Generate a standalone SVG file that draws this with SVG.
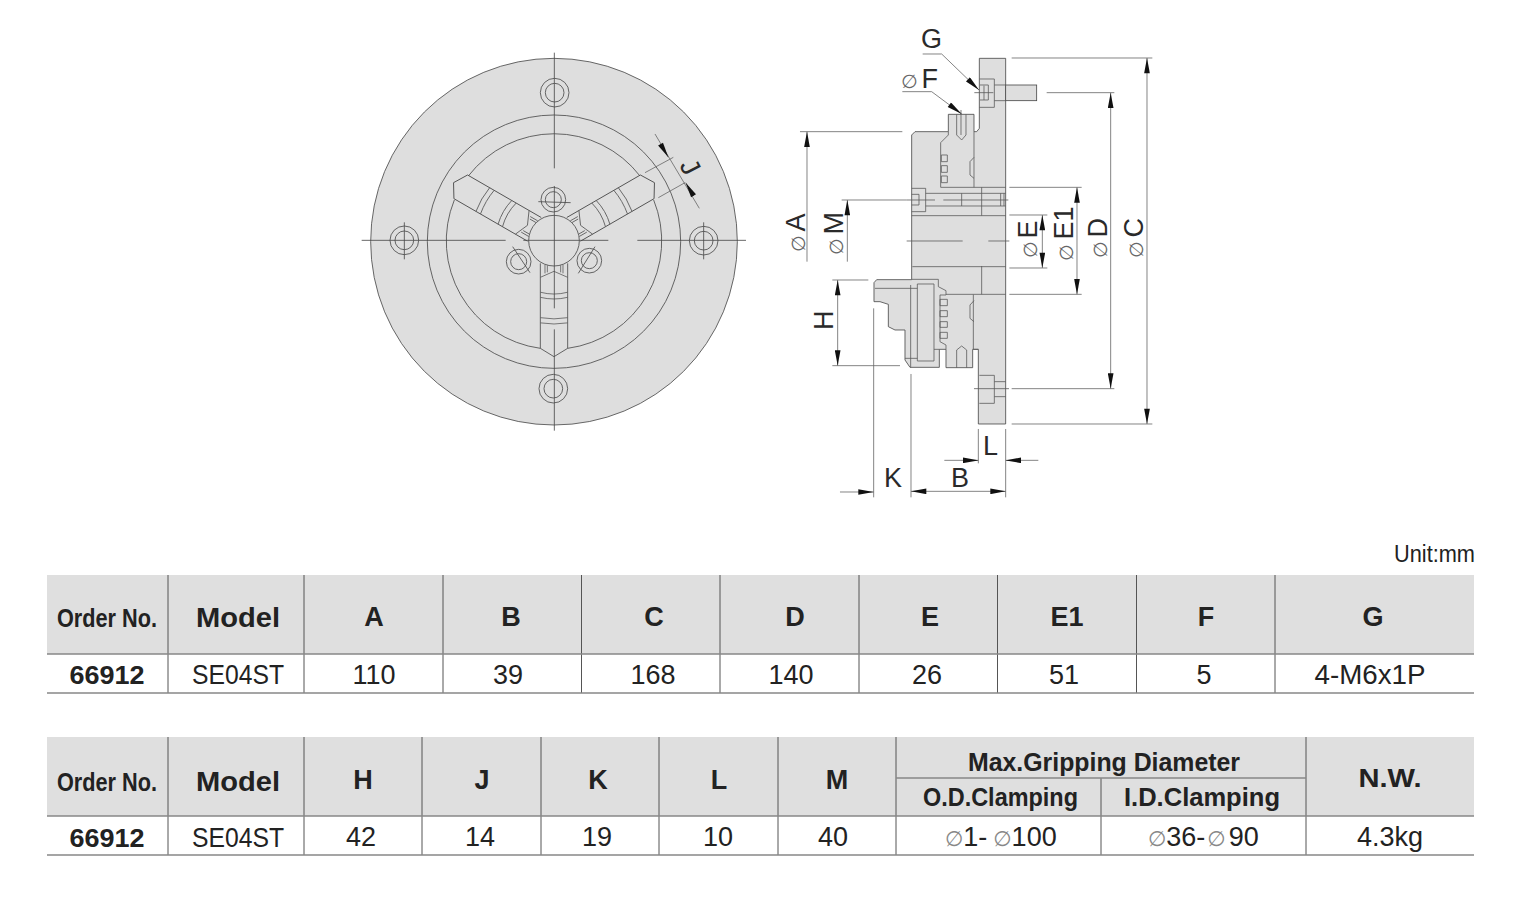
<svg xmlns="http://www.w3.org/2000/svg" width="1513" height="903" viewBox="0 0 1513 903">
<style>
text{font-family:"Liberation Sans",Arial,sans-serif;fill:#222}
.lab{font-size:27px;fill:#2a2a2a}
.phi{font-family:"DejaVu Sans",sans-serif;font-size:19px;fill:#666}
.rphi{font-family:"DejaVu Sans",sans-serif;font-size:21px;fill:#888}
.hd{font-size:27px;font-weight:bold;text-anchor:middle}
.c{font-size:27px;text-anchor:middle}
.b{font-size:26px;font-weight:bold;text-anchor:middle}
.hf{fill:#dfdfdf}
.tl{stroke:#555;stroke-width:1;fill:none}
.bl{stroke:#888;stroke-width:1.5;fill:none}
.d{fill:none;stroke:#4a4a4a;stroke-width:2.5}
.body{fill:#dedede;stroke:#4a4a4a;stroke-width:2.5}
.t{fill:none;stroke:#5a5a5a;stroke-width:2.4}
.dim{fill:none;stroke:#666;stroke-width:2.4}
.ar{marker-end:url(#ah)}
.ar2{marker-start:url(#ah);marker-end:url(#ah)}
</style>
<defs>
<marker id="ah" viewBox="-48 -9 48 18" refX="0" refY="0" markerWidth="48" markerHeight="18" markerUnits="userSpaceOnUse" orient="auto-start-reverse"><path d="M0,0L-46,-8.500L-46,8.500Z" fill="#111"/></marker>
<g id="jaw">
<path d="M-41,68V323L0,348L41,323V68" class="d"/>
<path d="M-41,110L0,92L41,110M-27,72V98M27,72V98M-20,74V95M20,74V95" class="t"/>
<path d="M-41,154.700A160,160 0 0 0 41,154.700M-41,170A175,175 0 0 0 41,170M-41,231A235,235 0 0 0 41,231M-41,246.600A250,250 0 0 0 41,246.600" class="t"/>
</g>
</defs>

<g id="front-view" transform="translate(360,50) scale(0.33333)">
<circle cx="582" cy="575" r="550" class="body"/>
<circle cx="582" cy="575" r="380" class="d"/>
<path d="M283,450A325,325 0 0 0 541,895M623,895A325,325 0 0 0 881,450M325,378A325,325 0 0 1 840,378" class="d"/>
<g transform="translate(582,572)">
<use href="#jaw"/>
<use href="#jaw" transform="rotate(120)"/>
<use href="#jaw" transform="rotate(-120)"/>
<circle r="76" class="body"/>
</g>
<g id="bolts" class="d">
<circle cx="584" cy="128" r="43"/><circle cx="584" cy="128" r="28"/>
<circle cx="133" cy="571" r="43"/><circle cx="133" cy="571" r="28"/>
<circle cx="1031" cy="572" r="43"/><circle cx="1031" cy="572" r="28"/>
<circle cx="580" cy="1016" r="43"/><circle cx="580" cy="1016" r="28"/>
<circle cx="580" cy="449" r="37"/><circle cx="580" cy="449" r="24"/>
<circle cx="476" cy="635" r="37"/><circle cx="476" cy="635" r="24"/>
<circle cx="688" cy="632" r="37"/><circle cx="688" cy="632" r="24"/>
</g>
<path class="d" d="M583,8V355M583,408V775M583,838V1142M5,571H437M490,571H745M832,571H1158M133,517V628M1031,517V628M535,455L632,458M458,590L510,668M705,590L655,670"/>
</g>

<g id="side-view" transform="translate(780,20) scale(0.33333)">
<path class="body" d="M598,115H677V1212H595V988H578V1043H498V988H478V1042H390L375,1020V930H345L325,920V853L300,845H282V788L290,779H395V345L405,335H505V283H582V335H590L598,325Z"/>
<rect x="677" y="195" width="93" height="47" class="body"/>
<g class="t">
<path d="M598,177H643V262H598M600,195H625V240H600M612,197V240M643,195H677M643,242H677M583,218H640"/>
<path d="M530,283V345L545,360L558,345V283M543,270V345M505,335V345L482,368V502M582,335V502"/>
<path d="M484,405h18v20h-18zM484,437h18v20h-18zM484,468h18v20h-18zM582,412L570,425V465L582,475"/>
<path d="M482,502H677M395,505H437V575H395M395,523H417V555H395M437,520H677M437,558H677M380,540H465M490,540H685M545,520V558M662,520V558M672,520V558M605,502V587M395,587H677M397,740H677M605,738V823M580,823H677M380,663H548M625,663H688"/>
<path d="M285,805H412M392,795V1042M412,792H462V1023H412ZM375,1015H412M395,778H475V800L498,812V825L480,825V965L498,975V988M462,988H478M498,823H580V988H595M582,842L570,855V895L582,905M530,1043V990L545,978L560,990V1043"/>
<path d="M480,838h22v19h-22zM480,872h22v18h-22zM480,905h22v17h-22zM480,937h22v18h-22z"/>
<path d="M598,1066H643V1150H598M643,1085H677M643,1130H677M582,1106H687"/>
</g>
</g>

<g id="connectors">
<g transform="translate(780,20) scale(0.33333)">
<path class="dim ar" d="M428,102H485L597,210"/>
<path class="dim ar" d="M367,215H455L545,282"/>
<path class="dim ar2" d="M1101,114V1212"/>
<path class="dim" d="M695,114H1117M695,1212H1117"/>
<path class="dim ar2" d="M992,218V1106"/>
<path class="dim" d="M800,218H1003M695,1106H1003"/>
<path class="dim ar" d="M81,725V335"/>
<path class="dim" d="M60,335H367"/>
<path class="dim ar" d="M202,725V540"/>
<path class="dim" d="M185,540H380"/>
<path class="dim ar2" d="M891,502V823"/>
<path class="dim" d="M688,502H905M688,823H905"/>
<path class="dim ar2" d="M787,585V744"/>
<path class="dim" d="M688,585H802M688,744H802"/>
<path class="dim ar2" d="M173,780V1037"/>
<path class="dim" d="M157,780H265M157,1037H360"/>
<path class="dim" d="M281,865V1432M393,1062V1432M677,1227V1432M595,1227V1330"/>
<path class="dim ar" d="M180,1416H281"/>
<path class="dim ar2" d="M393,1414H677"/>
<path class="dim ar" d="M493,1321H595"/>
<path class="dim ar" d="M775,1321H677"/>
</g>
<g transform="translate(360,50) scale(0.33333)">
<path class="dim" d="M885,252L1018,475M855,368L940,322M895,443L975,398"/>
<path class="dim ar" d="M902,283L925,322"/>
<path class="dim ar" d="M1001,438L977,398"/>
</g>
</g>

<g id="dim-labels">
<text class="lab" x="921" y="48">G</text>
<text class="lab" x="901" y="88"><tspan class="phi">∅</tspan><tspan dx="4">F</tspan></text>
<text class="lab" transform="translate(805,252) rotate(-90)"><tspan class="phi">∅</tspan><tspan dx="4">A</tspan></text>
<text class="lab" transform="translate(843,255) rotate(-90)"><tspan class="phi">∅</tspan><tspan dx="4">M</tspan></text>
<text class="lab" transform="translate(1037,258) rotate(-90)"><tspan class="phi">∅</tspan><tspan dx="3">E</tspan></text>
<text class="lab" transform="translate(1073,261) rotate(-90)"><tspan class="phi">∅</tspan><tspan dx="5">E1</tspan></text>
<text class="lab" transform="translate(1107,258) rotate(-90)"><tspan class="phi">∅</tspan><tspan dx="4">D</tspan></text>
<text class="lab" transform="translate(1143,258) rotate(-90)"><tspan class="phi">∅</tspan><tspan dx="4">C</tspan></text>
<text class="lab" transform="translate(833,330) rotate(-90)">H</text>
<text class="lab" x="983" y="455">L</text>
<text class="lab" x="884" y="487">K</text>
<text class="lab" x="951" y="487">B</text>
<text class="lab" transform="translate(690,167) rotate(62)" text-anchor="middle" dy="9">J</text>
</g>

<g id="table-1">
<text x="1394" y="562" font-size="23" textLength="81" lengthAdjust="spacingAndGlyphs">Unit:mm</text>
<rect class="hf" x="47" y="575" width="1427" height="79"/>
<path class="tl" d="M168,575V693M304,575V693M443,575V693M581.500,575V693M720,575V693M859,575V693M997.500,575V693M1136.500,575V693M1275,575V693"/>
<path class="bl" d="M47,654H1474M47,693H1474"/>
<text class="b" x="107" y="627" textLength="100" lengthAdjust="spacingAndGlyphs">Order No.</text>
<text class="hd" x="238" y="627" textLength="84" lengthAdjust="spacingAndGlyphs">Model</text>
<text class="hd" x="374" y="626">A</text><text class="hd" x="511" y="626">B</text><text class="hd" x="654" y="626">C</text><text class="hd" x="795" y="626">D</text><text class="hd" x="930" y="626">E</text><text class="hd" x="1067" y="626">E1</text><text class="hd" x="1206" y="626">F</text><text class="hd" x="1373" y="626">G</text>
<text class="b" x="107" y="684" textLength="75" lengthAdjust="spacingAndGlyphs">66912</text>
<text class="c" x="238" y="684" textLength="92" lengthAdjust="spacingAndGlyphs">SE04ST</text>
<text class="c" x="374" y="684">110</text><text class="c" x="508" y="684">39</text><text class="c" x="653" y="684">168</text><text class="c" x="791" y="684">140</text><text class="c" x="927" y="684">26</text><text class="c" x="1064" y="684">51</text><text class="c" x="1204" y="684">5</text>
<text class="c" x="1370" y="684" textLength="111" lengthAdjust="spacingAndGlyphs">4-M6x1P</text>
</g>

<g id="table-2">
<rect class="hf" x="47" y="737" width="1427" height="79"/>
<path class="tl" d="M168,737V855M304,737V855M422,737V855M541,737V855M659,737V855M778,737V855M896,737V855M1306,737V855M1101,778V855"/>
<path class="bl" d="M47,816H1474M47,855H1474M896,778H1306"/>
<text class="b" x="107" y="791" textLength="100" lengthAdjust="spacingAndGlyphs">Order No.</text>
<text class="hd" x="238" y="791" textLength="84" lengthAdjust="spacingAndGlyphs">Model</text>
<text class="hd" x="363" y="789">H</text><text class="hd" x="482" y="789">J</text><text class="hd" x="598" y="789">K</text><text class="hd" x="719" y="789">L</text><text class="hd" x="837" y="789">M</text>
<text class="b" x="1104" y="771" textLength="272" lengthAdjust="spacingAndGlyphs">Max.Gripping Diameter</text>
<text class="b" x="1000.500" y="806" textLength="155" lengthAdjust="spacingAndGlyphs">O.D.Clamping</text>
<text class="b" x="1202" y="806" textLength="156" lengthAdjust="spacingAndGlyphs">I.D.Clamping</text>
<text class="b" x="1390" y="787" textLength="63" lengthAdjust="spacingAndGlyphs">N.W.</text>
<text class="b" x="107" y="847" textLength="75" lengthAdjust="spacingAndGlyphs">66912</text>
<text class="c" x="238" y="847" textLength="92" lengthAdjust="spacingAndGlyphs">SE04ST</text>
<text class="c" x="361" y="846">42</text><text class="c" x="480" y="846">14</text><text class="c" x="597" y="846">19</text><text class="c" x="718" y="846">10</text><text class="c" x="833" y="846">40</text>
<text x="945" y="846" font-size="27"><tspan class="rphi">∅</tspan>1-<tspan class="rphi" dx="6">∅</tspan>100</text>
<text x="1148" y="846" font-size="27"><tspan class="rphi">∅</tspan>36-<tspan class="rphi" dx="2">∅</tspan><tspan dx="3">90</tspan></text>
<text class="c" x="1390" y="846">4.3kg</text>
</g>
</svg>
